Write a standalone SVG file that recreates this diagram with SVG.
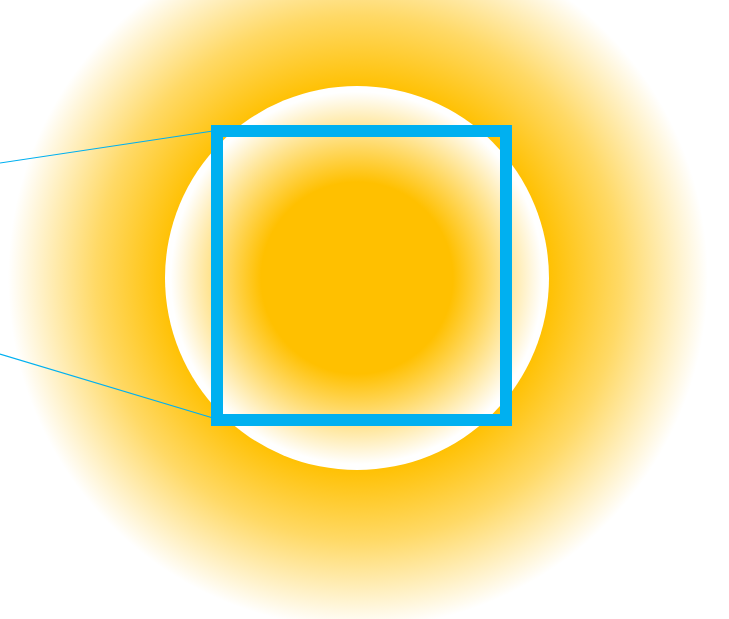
<svg xmlns="http://www.w3.org/2000/svg" width="729" height="619" viewBox="0 0 729 619">
<defs>
<radialGradient id="outer" cx="358" cy="278" r="350" gradientUnits="userSpaceOnUse">
<stop offset="0.54" stop-color="#FFC000" stop-opacity="1"/>
<stop offset="0.75" stop-color="#FFC000" stop-opacity="0.6"/>
<stop offset="1" stop-color="#FFC000" stop-opacity="0"/>
</radialGradient>
<radialGradient id="inner" cx="357" cy="278" r="192" gradientUnits="userSpaceOnUse">
<stop offset="0.5" stop-color="#FFC000" stop-opacity="1"/>
<stop offset="0.97" stop-color="#FFC000" stop-opacity="0"/>
</radialGradient>
<style>
.conn{stroke:#00B0F0;stroke-width:1.2;fill:none}
.frame{stroke:#00B0F0;stroke-width:12;fill:none}
</style>
</defs>
<rect width="729" height="619" fill="#FFFFFF"/>
<g id="glow">
<circle cx="358" cy="278" r="350" fill="url(#outer)"/>
<circle cx="357" cy="278" r="192" fill="#FFFFFF"/>
<circle cx="357" cy="278" r="192" fill="url(#inner)"/>
</g>
<g id="connectors">
<line class="conn" x1="0" y1="163" x2="213" y2="131"/>
<line class="conn" x1="0" y1="354" x2="213" y2="418"/>
</g>
<g id="frame">
<rect class="frame" x="217" y="131" width="289" height="289"/>
</g>
</svg>
